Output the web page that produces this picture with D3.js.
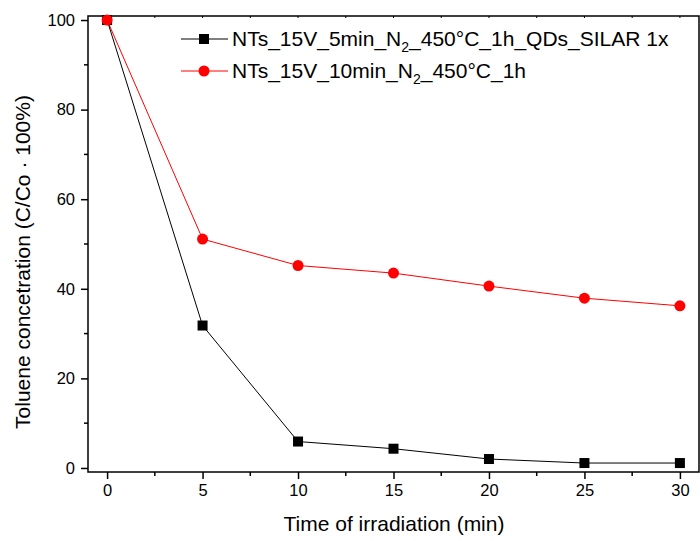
<!DOCTYPE html>
<html>
<head>
<meta charset="utf-8">
<script src="https://cdn.jsdelivr.net/npm/d3@7"></script>
<style>
body { margin: 0; background: #fff; }
text { font-family: "Liberation Sans", Arial, sans-serif; fill: #000; }
</style>
</head>
<body>
<svg id="chart" width="700" height="541"></svg>
<script>
var times = [0, 5, 10, 15, 20, 25, 30];
var qdsValues = [100, 31.8, 5.9, 4.3, 2.0, 1.1, 1.1];
var plainValues = [100, 51.1, 45.2, 43.5, 40.6, 37.9, 36.2];
var xTicks = [0, 5, 10, 15, 20, 25, 30];
var yTicks = [0, 20, 40, 60, 80, 100];

var svg = d3.select('#chart');

var margin = {left: 88, top: 16, right: 699, bottom: 472};

var x = d3.scaleLinear()
	.domain([-1, 31])
	.range([margin.left, margin.right]);

var y = d3.scaleLinear()
	.domain([-0.9, 100.9])
	.range([margin.bottom, margin.top]);

// frame
svg.append('rect')
	.attr('x', margin.left)
	.attr('y', margin.top)
	.attr('width', margin.right - margin.left)
	.attr('height', margin.bottom - margin.top)
	.attr('fill', 'none')
	.attr('stroke', '#000')
	.attr('stroke-width', 1.5);

var xAxis = svg.append('g')
	.attr('transform', 'translate(0,' + margin.bottom + ')')
	.call(d3.axisBottom(x).tickValues(xTicks).tickSize(7).tickPadding(5).tickFormat(d3.format('d')));

var yAxis = svg.append('g')
	.attr('transform', 'translate(' + margin.left + ',0)')
	.call(d3.axisLeft(y).tickValues(yTicks).tickSize(7).tickPadding(6).tickFormat(d3.format('d')));

[xAxis, yAxis].forEach(function(a) {
	a.attr('font-size', null).attr('font-family', null);
	a.select('.domain').remove();
	a.selectAll('line').attr('stroke-width', 1.5);
	a.selectAll('text').attr('font-size', 16.5);
});

// minor ticks
var xMinor = d3.range(2.5, 30, 5);
svg.append('g').selectAll('line').data(xMinor).join('line')
	.attr('x1', function(d) { return x(d); })
	.attr('x2', function(d) { return x(d); })
	.attr('y1', margin.bottom)
	.attr('y2', margin.bottom + 4)
	.attr('stroke', '#000').attr('stroke-width', 1.5);

var yMinor = d3.range(10, 100, 20);
svg.append('g').selectAll('line').data(yMinor).join('line')
	.attr('x1', margin.left - 4)
	.attr('x2', margin.left)
	.attr('y1', function(d) { return y(d); })
	.attr('y2', function(d) { return y(d); })
	.attr('stroke', '#000').attr('stroke-width', 1.5);

// tiny mirror ticks on top edge
svg.append('g').selectAll('line').data(xTicks.concat(xMinor)).join('line')
	.attr('x1', function(d) { return x(d); })
	.attr('x2', function(d) { return x(d); })
	.attr('y1', margin.top)
	.attr('y2', margin.top + 2)
	.attr('stroke', '#000').attr('stroke-width', 1);

var line = d3.line()
	.x(function(d) { return x(d[0]); })
	.y(function(d) { return y(d[1]); });

var qdsPts = d3.zip(times, qdsValues);
var plainPts = d3.zip(times, plainValues);

svg.append('path')
	.attr('d', line(plainPts))
	.attr('fill', 'none')
	.attr('stroke', '#ff0000')
	.attr('stroke-width', 1);

svg.append('path')
	.attr('d', line(qdsPts))
	.attr('fill', 'none')
	.attr('stroke', '#000')
	.attr('stroke-width', 1);

svg.append('g').selectAll('rect').data(qdsPts).join('rect')
	.attr('x', function(d) { return x(d[0]) - 5; })
	.attr('y', function(d) { return y(d[1]) - 5; })
	.attr('width', 10)
	.attr('height', 10)
	.attr('fill', '#000');

svg.append('g').selectAll('circle').data(plainPts).join('circle')
	.attr('cx', function(d) { return x(d[0]); })
	.attr('cy', function(d) { return y(d[1]); })
	.attr('r', 5.5)
	.attr('fill', '#ff0000');

// legend
var legend = svg.append('g');
var legendRows = [
	{color: '#000', shape: 'square', pre: 'NTs_15V_5min_N', post: '_450°C_1h_QDs_SILAR 1x', yy: 39},
	{color: '#ff0000', shape: 'circle', pre: 'NTs_15V_10min_N', post: '_450°C_1h', yy: 71}
];
legendRows.forEach(function(r) {
	legend.append('line')
		.attr('x1', 181).attr('x2', 228)
		.attr('y1', r.yy).attr('y2', r.yy)
		.attr('stroke', r.color).attr('stroke-width', 1);
	if (r.shape === 'square') {
		legend.append('rect').attr('x', 199).attr('y', r.yy - 5).attr('width', 10).attr('height', 10).attr('fill', r.color);
	} else {
		legend.append('circle').attr('cx', 204).attr('cy', r.yy).attr('r', 5.5).attr('fill', r.color);
	}
	var t = legend.append('text')
		.attr('x', 232)
		.attr('y', r.yy + 7)
		.attr('font-size', 21);
	t.append('tspan').text(r.pre);
	t.append('tspan').attr('dy', 6).attr('font-size', 14).text('2');
	t.append('tspan').attr('dy', -6).text(r.post);
});

// axis titles
svg.append('text')
	.attr('x', 394)
	.attr('y', 531)
	.attr('text-anchor', 'middle')
	.attr('font-size', 21)
	.text('Time of irradiation (min)');

svg.append('text')
	.attr('transform', 'translate(30,' + 262 + ') rotate(-90)')
	.attr('text-anchor', 'middle')
	.attr('font-size', 21)
	.text('Toluene concetration (C/Co · 100%)');
</script>
</body>
</html>
